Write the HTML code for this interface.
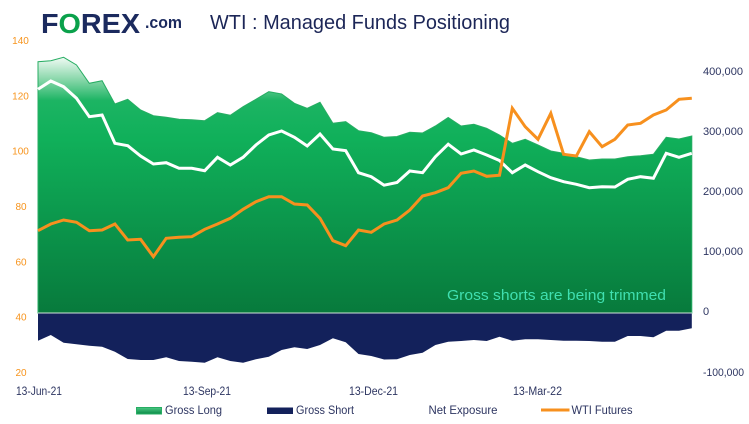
<!DOCTYPE html>
<html>
<head>
<meta charset="utf-8">
<style>
html,body{margin:0;padding:0;background:#fff;}
svg{display:block;}
text{font-family:"Liberation Sans",sans-serif;}
</style>
</head>
<body>
<svg width="749" height="424" viewBox="0 0 749 424" xmlns="http://www.w3.org/2000/svg">
<defs>
<linearGradient id="gl" gradientUnits="userSpaceOnUse" x1="0" y1="57" x2="0" y2="313">
<stop offset="0" stop-color="#f2fbf5"/>
<stop offset="0.09" stop-color="#86d6a8"/>
<stop offset="0.17" stop-color="#1cb463"/>
<stop offset="0.32" stop-color="#10b05a"/>
<stop offset="1" stop-color="#077a3c"/>
</linearGradient>
<linearGradient id="lg" x1="0" y1="0" x2="0" y2="1">
<stop offset="0" stop-color="#4cc985"/>
<stop offset="1" stop-color="#0a8a45"/>
</linearGradient>
</defs>

<!-- Logo -->
<text x="41" y="33" font-size="28" font-weight="bold" fill="#1b2a5e" textLength="99" lengthAdjust="spacingAndGlyphs"><tspan>F</tspan><tspan fill="#0aa14b">O</tspan><tspan>REX</tspan></text>
<text x="145" y="28" font-size="17" font-weight="bold" fill="#1b2a5e" textLength="37" lengthAdjust="spacingAndGlyphs">.com</text>

<!-- Title -->
<text x="210" y="29" font-size="20" fill="#1c2657" textLength="300" lengthAdjust="spacingAndGlyphs">WTI : Managed Funds Positioning</text>

<!-- Gross long area -->
<path d="M38,313 L38,61.7 L50.8,60.7 L63.6,57.3 L76.5,65 L89.3,83.3 L102.1,80.7 L114.9,104 L127.7,99.3 L140.6,110 L153.4,115.7 L166.2,117.3 L179,119.3 L191.8,119.7 L204.7,120.7 L217.5,112.7 L230.3,115.3 L243.1,106.7 L255.9,99.3 L268.8,91.7 L281.6,94 L294.4,103.3 L307.2,108.3 L320,102.3 L332.9,123.3 L345.7,121.7 L358.5,130.7 L371.3,132.7 L384.1,137.3 L397,136.5 L409.8,132.3 L422.6,133 L435.4,126 L448.2,117.5 L461.1,126 L473.9,124.2 L486.7,128.3 L499.5,135 L512.3,143.3 L525.2,139.3 L538,145 L550.8,151 L563.6,153.3 L576.4,156.7 L589.3,160 L602.1,159 L614.9,159 L627.7,156.7 L640.5,155.7 L653.4,154.3 L666.2,137.3 L679,139 L691.8,136 L691.8,313 Z" fill="url(#gl)" stroke="#27ad63" stroke-width="1"/>

<!-- Gross short area -->
<path d="M38,313 L38,340.7 L50.8,335 L63.6,342.7 L76.5,344.3 L89.3,345.7 L102.1,346.7 L114.9,351.7 L127.7,359 L140.6,360 L153.4,360 L166.2,357.3 L179,361 L191.8,361.7 L204.7,362.7 L217.5,357.3 L230.3,361 L243.1,362.7 L255.9,359.3 L268.8,356.7 L281.6,350 L294.4,347.3 L307.2,349 L320,345 L332.9,338.3 L345.7,342.3 L358.5,354 L371.3,356 L384.1,359.5 L397,359.3 L409.8,355 L422.6,352.7 L435.4,345 L448.2,341.7 L461.1,341 L473.9,340 L486.7,341 L499.5,336.7 L512.3,340.7 L525.2,339.3 L538,339.3 L550.8,340 L563.6,340.7 L576.4,340.7 L589.3,341 L602.1,341.7 L614.9,341.7 L627.7,336 L640.5,336 L653.4,337.3 L666.2,330.7 L679,330.7 L691.8,328.3 L691.8,313 Z" fill="#13215b"/>
<line x1="38" y1="313" x2="692" y2="313" stroke="#cfe3d8" stroke-width="1"/>

<!-- Annotation -->
<text x="447" y="300" font-size="14.5" fill="#40dfb0" textLength="219" lengthAdjust="spacingAndGlyphs">Gross shorts are being trimmed</text>

<!-- Net exposure -->
<polyline fill="none" stroke="#ffffff" stroke-width="3" stroke-linejoin="miter" points="38,89.3 50.8,81 63.6,86.7 76.5,98.3 89.3,116.7 102.1,115 114.9,143.3 127.7,145.7 140.6,156 153.4,164 166.2,162.7 179,168.3 191.8,168.3 204.7,170.7 217.5,157.3 230.3,165 243.1,157.3 255.9,145 268.8,135 281.6,131 294.4,137.3 307.2,146 320,134 332.9,149 345.7,150.7 358.5,172.7 371.3,176.7 384.1,185.2 397,182.5 409.8,171 422.6,172.7 435.4,156.7 448.2,144.2 461.1,154 473.9,150 486.7,155 499.5,160.5 512.3,172.7 525.2,165 538,171.7 550.8,177.7 563.6,181.7 576.4,184.3 589.3,187.7 602.1,186.7 614.9,187 627.7,179.3 640.5,176.7 653.4,178.3 666.2,153.3 679,157.3 691.8,153.3"/>

<!-- WTI Futures -->
<polyline fill="none" stroke="#f7901e" stroke-width="3" stroke-linejoin="miter" points="38,230.7 50.8,224 63.6,220 76.5,222.3 89.3,230.7 102.1,230 114.9,224 127.7,240 140.6,239.3 153.4,256.7 166.2,238.3 179,237.3 191.8,236.7 204.7,229.3 217.5,224 230.3,218.3 243.1,209.3 255.9,201.7 268.8,196.7 281.6,196.7 294.4,204 307.2,205 320,218.3 332.9,240.7 345.7,245.7 358.5,230 371.3,232.3 384.1,224 397,220 409.8,210 422.6,196 435.4,192.7 448.2,187.7 461.1,173.3 473.9,171 486.7,176.3 499.5,175.2 512.3,108.3 525.2,126.7 538,139.3 550.8,113.3 563.6,154.3 576.4,156 589.3,131.7 602.1,146.7 614.9,139.3 627.7,125 640.5,123.3 653.4,115 666.2,110 679,99.3 691.8,98.3"/>

<!-- Left axis -->
<g font-size="10" fill="#f7941d" text-anchor="middle">
<text x="20.5" y="44">140</text>
<text x="20.5" y="99.3">120</text>
<text x="20.5" y="154.6">100</text>
<text x="21" y="210">80</text>
<text x="21" y="265.3">60</text>
<text x="21" y="320.6">40</text>
<text x="21" y="376">20</text>
</g>

<!-- Right axis -->
<g font-size="11" fill="#2d3561">
<text x="703" y="75" textLength="40" lengthAdjust="spacingAndGlyphs">400,000</text>
<text x="703" y="135" textLength="40" lengthAdjust="spacingAndGlyphs">300,000</text>
<text x="703" y="195" textLength="40" lengthAdjust="spacingAndGlyphs">200,000</text>
<text x="703" y="255" textLength="40" lengthAdjust="spacingAndGlyphs">100,000</text>
<text x="703" y="315">0</text>
<text x="703" y="376" textLength="41" lengthAdjust="spacingAndGlyphs">-100,000</text>
</g>

<!-- X axis -->
<g font-size="11.5" fill="#2d3561">
<text x="16" y="395" textLength="46" lengthAdjust="spacingAndGlyphs">13-Jun-21</text>
<text x="183" y="395" textLength="48" lengthAdjust="spacingAndGlyphs">13-Sep-21</text>
<text x="349" y="395" textLength="49" lengthAdjust="spacingAndGlyphs">13-Dec-21</text>
<text x="513" y="395" textLength="49" lengthAdjust="spacingAndGlyphs">13-Mar-22</text>
</g>

<!-- Legend -->
<rect x="136.5" y="407.5" width="25" height="6.5" fill="url(#lg)" stroke="#27ad63" stroke-width="1"/>
<text x="165" y="414" font-size="12" fill="#2d3561" textLength="57" lengthAdjust="spacingAndGlyphs">Gross Long</text>
<rect x="267" y="407.5" width="26" height="6.5" fill="#13215b"/>
<text x="296" y="414" font-size="12" fill="#2d3561" textLength="58" lengthAdjust="spacingAndGlyphs">Gross Short</text>
<text x="428.5" y="414" font-size="12" fill="#2d3561" textLength="69" lengthAdjust="spacingAndGlyphs">Net Exposure</text>
<line x1="541" y1="410" x2="569.5" y2="410" stroke="#f7901e" stroke-width="3"/>
<text x="571.5" y="414" font-size="12" fill="#2d3561" textLength="61" lengthAdjust="spacingAndGlyphs">WTI Futures</text>
</svg>
</body>
</html>
